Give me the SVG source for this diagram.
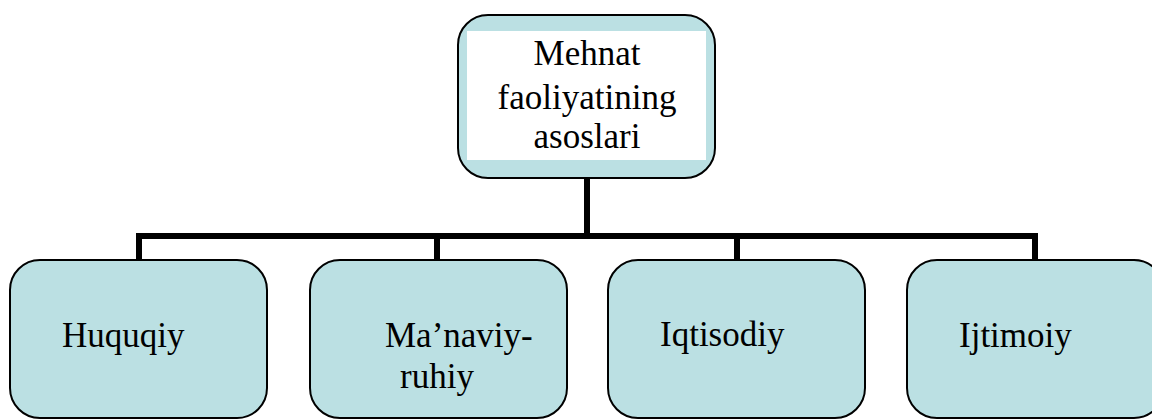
<svg xmlns="http://www.w3.org/2000/svg" width="1152" height="419" viewBox="0 0 1152 419">
  <style>
    .box { fill: #BBE0E3; stroke: #000; stroke-width: 2; }
    .label { font-size: 35px; fill: #000; }
    .wire { fill: none; stroke: #000; stroke-width: 6; stroke-linejoin: miter; stroke-linecap: butt; }
  </style>
  <rect width="1152" height="419" fill="#fff"/>

  <!-- org-chart connectors -->
  <g id="connectors">
    <path class="wire" d="M587,178 V236"/>
    <path class="wire" d="M139,260 V236 H1035 V260"/>
    <path class="wire" d="M437,236 V260"/>
    <path class="wire" d="M737,236 V260"/>
  </g>

  <g font-family="Liberation Serif, DejaVu Serif, serif">
    <!-- root node -->
    <g id="root">
      <rect class="box" x="458" y="15" width="257" height="163" rx="30" ry="30"/>
      <rect x="467" y="31" width="239" height="129" fill="#fff"/>
      <text class="label" text-anchor="middle" x="587" y="65">Mehnat</text>
      <text class="label" text-anchor="middle" x="587" y="109">faoliyatining</text>
      <text class="label" text-anchor="middle" x="587" y="148">asoslari</text>
    </g>

    <g id="huquqiy">
      <rect class="box" x="10" y="260" width="257" height="158" rx="30" ry="30"/>
      <text class="label" x="62" y="347">Huquqiy</text>
    </g>

    <g id="manaviy">
      <rect class="box" x="310" y="260" width="257" height="158" rx="30" ry="30"/>
      <text class="label" x="385" y="347">Ma’naviy-</text>
      <text class="label" x="400" y="388">ruhiy</text>
    </g>

    <g id="iqtisodiy">
      <rect class="box" x="608" y="260" width="257" height="158" rx="30" ry="30"/>
      <text class="label" x="660" y="346">Iqtisodiy</text>
    </g>

    <g id="ijtimoiy">
      <rect class="box" x="907" y="260" width="257" height="158" rx="30" ry="30"/>
      <text class="label" x="959" y="347">Ijtimoiy</text>
    </g>
  </g>
</svg>
